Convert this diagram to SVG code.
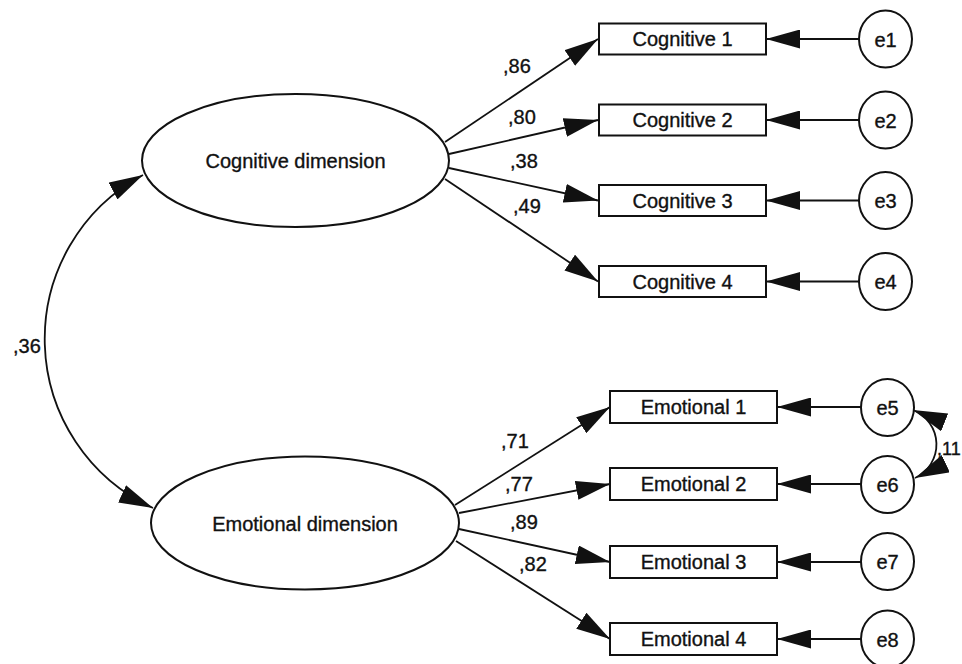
<svg xmlns="http://www.w3.org/2000/svg" width="962" height="664" viewBox="0 0 962 664">
<style>
text{font-family:"Liberation Sans",Arial,sans-serif;font-size:20px;fill:#111;stroke:#111;stroke-width:0.35}
.c{text-anchor:middle}
.shape{fill:#fff;stroke:#111;stroke-width:2}
.ln{fill:none;stroke:#111;stroke-width:1.8}
.ar{marker-end:url(#ah)}
.bi{marker-start:url(#ah);marker-end:url(#ah)}
</style>
<defs>
<marker id="ah" markerUnits="userSpaceOnUse" viewBox="0 0 34 19" markerWidth="34" markerHeight="19" refX="34" refY="9.5" orient="auto-start-reverse">
<path d="M0,0 L34,9.5 L0,19 Z" fill="#111"/>
</marker>
</defs>
<rect width="962" height="664" fill="#fff"/>
<g id="connectors">
<line class="ln ar" x1="445" y1="142" x2="598" y2="39"/>
<line class="ln ar" x1="449" y1="154" x2="598" y2="120"/>
<line class="ln ar" x1="449" y1="168" x2="598" y2="200.5"/>
<line class="ln ar" x1="445" y1="179" x2="598" y2="281.5"/>
<line class="ln ar" x1="455" y1="505" x2="610" y2="407"/>
<line class="ln ar" x1="459" y1="513" x2="610" y2="484"/>
<line class="ln ar" x1="459" y1="529" x2="610" y2="562"/>
<line class="ln ar" x1="456" y1="541" x2="610" y2="639"/>
<line class="ln ar" x1="859" y1="39" x2="766" y2="39"/>
<line class="ln ar" x1="859" y1="120" x2="766" y2="120"/>
<line class="ln ar" x1="859" y1="200.5" x2="766" y2="200.5"/>
<line class="ln ar" x1="859" y1="281.5" x2="766" y2="281.5"/>
<line class="ln ar" x1="861" y1="407" x2="777" y2="407"/>
<line class="ln ar" x1="861" y1="484" x2="777" y2="484"/>
<line class="ln ar" x1="861" y1="562" x2="777" y2="562"/>
<line class="ln ar" x1="861" y1="639" x2="777" y2="639"/>
<path class="ln bi" d="M143,175 A186,186 0 0,0 153,508"/>
<path class="ln bi" d="M913,410 A37,37 0 0,1 915,478"/>
<text x="503" y="73">,86</text>
<text x="508" y="124">,80</text>
<text x="510" y="168">,38</text>
<text x="513" y="213">,49</text>
<text x="501" y="447.5">,71</text>
<text x="505" y="490.5">,77</text>
<text x="510" y="529">,89</text>
<text x="519" y="570.5">,82</text>
<text x="13" y="352.5">,36</text>
<text x="937" y="455" style="font-size:18px">,11</text>
</g>
<g id="cognitive-dimension">
<ellipse class="shape" cx="295.5" cy="160.5" rx="153.5" ry="66.5"/>
<text class="c" x="295.5" y="168">Cognitive dimension</text>
</g>
<g id="emotional-dimension">
<ellipse class="shape" cx="305" cy="523" rx="154" ry="66.5"/>
<text class="c" x="305" y="530.5">Emotional dimension</text>
</g>
<g id="cognitive1"><rect class="shape" x="599" y="23.5" width="167" height="31"/><text class="c" x="682.5" y="46">Cognitive 1</text></g>
<g id="cognitive2"><rect class="shape" x="599" y="104.5" width="167" height="31"/><text class="c" x="682.5" y="127">Cognitive 2</text></g>
<g id="cognitive3"><rect class="shape" x="599" y="185" width="167" height="31"/><text class="c" x="682.5" y="207.5">Cognitive 3</text></g>
<g id="cognitive4"><rect class="shape" x="599" y="266" width="167" height="31"/><text class="c" x="682.5" y="288.5">Cognitive 4</text></g>
<g id="emotional1"><rect class="shape" x="610" y="391" width="167" height="32"/><text class="c" x="693.5" y="414">Emotional 1</text></g>
<g id="emotional2"><rect class="shape" x="610" y="468" width="167" height="32"/><text class="c" x="693.5" y="491">Emotional 2</text></g>
<g id="emotional3"><rect class="shape" x="610" y="546" width="167" height="32"/><text class="c" x="693.5" y="569">Emotional 3</text></g>
<g id="emotional4"><rect class="shape" x="610" y="623" width="167" height="32"/><text class="c" x="693.5" y="646">Emotional 4</text></g>
<g id="e1"><ellipse class="shape" cx="885.5" cy="39" rx="26.5" ry="28.5"/><text class="c" x="885.5" y="46.5">e1</text></g>
<g id="e2"><ellipse class="shape" cx="885.5" cy="120" rx="26.5" ry="28.5"/><text class="c" x="885.5" y="127.5">e2</text></g>
<g id="e3"><ellipse class="shape" cx="885.5" cy="200.5" rx="26.5" ry="28.5"/><text class="c" x="885.5" y="208">e3</text></g>
<g id="e4"><ellipse class="shape" cx="885.5" cy="281.5" rx="26.5" ry="28.5"/><text class="c" x="885.5" y="289">e4</text></g>
<g id="e5"><ellipse class="shape" cx="887.5" cy="407.5" rx="26.5" ry="28.5"/><text class="c" x="887.5" y="415">e5</text></g>
<g id="e6"><ellipse class="shape" cx="887.5" cy="484.5" rx="26.5" ry="28.5"/><text class="c" x="887.5" y="492">e6</text></g>
<g id="e7"><ellipse class="shape" cx="887.5" cy="561.5" rx="26.5" ry="28.5"/><text class="c" x="887.5" y="569">e7</text></g>
<g id="e8"><ellipse class="shape" cx="887.5" cy="639" rx="26.5" ry="28.5"/><text class="c" x="887.5" y="646.5">e8</text></g>
</svg>
